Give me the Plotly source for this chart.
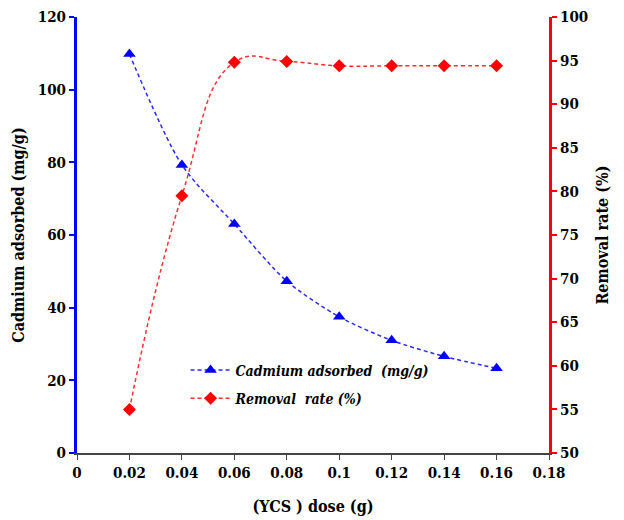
import plotly.graph_objects as go

dose = [0.02, 0.04, 0.06, 0.08, 0.10, 0.12, 0.14, 0.16]
cadmium_adsorbed = [109.8, 79.3, 63.0, 47.3, 37.5, 31.0, 26.6, 23.3]
removal_rate = [55.0, 79.5, 94.8, 94.9, 94.4, 94.4, 94.4, 94.4]

x_ticks = [0, 0.02, 0.04, 0.06, 0.08, 0.1, 0.12, 0.14, 0.16, 0.18]
x_labels = ["0", "0.02", "0.04", "0.06", "0.08", "0.1", "0.12", "0.14", "0.16", "0.18"]

FONT = "'DejaVu Serif Condensed', 'DejaVu Serif', serif"

fig = go.Figure()
fig.add_trace(go.Scatter(
    x=dose, y=cadmium_adsorbed, name="<b><i>Cadmium adsorbed  (mg/g)</i></b>",
    mode="lines+markers", legendgroup="a",
    line=dict(color="#2a2aff", width=1.5, dash="4px,3px", shape="spline", smoothing=0.8),
    marker=dict(symbol="triangle-up", size=11, color="#0000ff"),
    yaxis="y",
))
fig.add_trace(go.Scatter(
    x=dose, y=removal_rate, name="<b><i>Removal  rate (%)</i></b>",
    mode="lines+markers", legendgroup="b",
    line=dict(color="#ff3030", width=1.5, dash="4px,3px", shape="spline", smoothing=1.3),
    marker=dict(symbol="diamond", size=10, color="#ff0000"),
    yaxis="y2",
))

tickfont = dict(family=FONT, size=15, color="black")
titlefont = dict(family=FONT, size=16, color="black")

fig.update_layout(
    width=624, height=520,
    margin=dict(l=77, r=75, t=17, b=67),
    paper_bgcolor="white", plot_bgcolor="white",
    font=dict(family=FONT),
    xaxis=dict(
        range=[0, 0.18], tickvals=x_ticks, ticktext=[f"<b>{t}</b>" for t in x_labels],
        showgrid=False, zeroline=False, showline=True, linecolor="#444444", linewidth=1.5,
        ticks="outside", ticklen=5, tickcolor="#444444", tickfont=tickfont,
        automargin=False,
        title=dict(text="<b>(YCS ) dose (g)</b>", font=titlefont, standoff=20),
    ),
    yaxis=dict(
        range=[0, 120], tickvals=list(range(0, 121, 20)),
        ticktext=[f"<b>{v}</b>" for v in range(0, 121, 20)],
        showgrid=False, zeroline=False, showline=True, linecolor="#0000ff", linewidth=3,
        ticks="outside", ticklen=5, tickcolor="#0000ff", tickwidth=2, tickfont=tickfont,
        automargin=False,
        title=dict(text="<b>Cadmium adsorbed (mg/g)</b>", font=titlefont, standoff=10),
    ),
    yaxis2=dict(
        range=[50, 100], tickvals=list(range(50, 101, 5)),
        ticktext=[f"<b>{v}</b>" for v in range(50, 101, 5)],
        overlaying="y", side="right",
        showgrid=False, zeroline=False, showline=True, linecolor="#ff0000", linewidth=3,
        ticks="outside", ticklen=5, tickcolor="#ff0000", tickwidth=2, tickfont=tickfont,
        automargin=False,
        title=dict(text="<b>Removal rate (%)</b>", font=titlefont, standoff=10),
    ),
    legend=dict(
        x=0.23, y=0.226, xanchor="left", yanchor="top", traceorder="grouped",
        bgcolor="rgba(0,0,0,0)", font=dict(family=FONT, size=14, color="black"),
        itemwidth=40, tracegroupgap=7,
    ),
)

fig.write_html("out.html")
